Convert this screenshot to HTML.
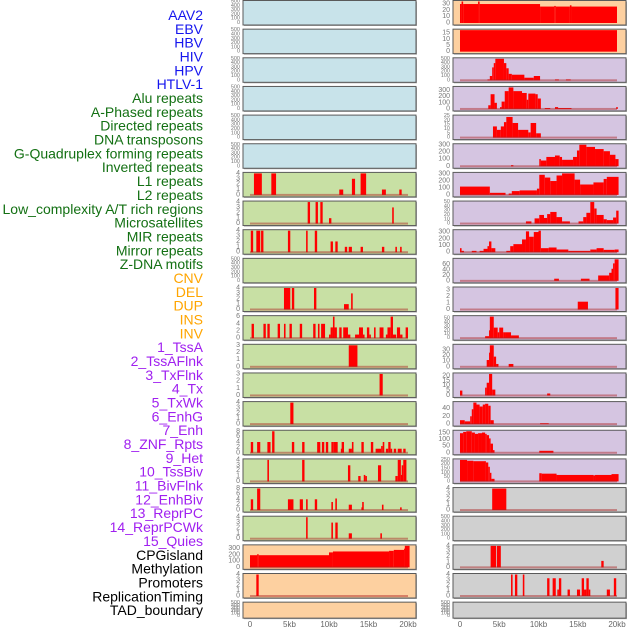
<!DOCTYPE html>
<html><head><meta charset="utf-8"><style>
html,body{margin:0;padding:0;background:#fff;width:630px;height:630px;overflow:hidden}
svg{display:block;font-family:"Liberation Sans",sans-serif}
</style></head><body>
<svg id="chart" width="630" height="630" viewBox="0 0 630 630" xmlns="http://www.w3.org/2000/svg"></svg>
<script>
const labels=["AAV2","EBV","HBV","HIV","HPV","HTLV-1","Alu repeats","A-Phased repeats","Directed repeats","DNA transposons","G-Quadruplex forming repeats","Inverted repeats","L1 repeats","L2 repeats","Low_complexity A/T rich regions","Microsatellites","MIR repeats","Mirror repeats","Z-DNA motifs","CNV","DEL","DUP","INS","INV","1_TssA","2_TssAFlnk","3_TxFlnk","4_Tx","5_TxWk","6_EnhG","7_Enh","8_ZNF_Rpts","9_Het","10_TssBiv","11_BivFlnk","12_EnhBiv","13_ReprPC","14_ReprPCWk","15_Quies","CPGisland","Methylation","Promoters","ReplicationTiming","TAD_boundary"];
const labelGroups=[6,13,5,15,5];
const groupColors=["#1515ee","#137013","#ffa500","#a020f0","#000000"];
const xTicks=[0,5,10,15,20];
const xTickLabels=["0","5kb","10kb","15kb","20kb"];
const T500=[0,100,200,300,400,500], T4=[0,1,2,3,4], T8=[0,2,4,6,8], T300=[0,100,200,300];
const leftTicks=[T500,T500,T500,T500,T500,T500,T4,T4,T4,T500,T4,[0,2,4,6],[0,1,2,3],[0,1,2,3],T4,T8,T4,T8,T4,T300,T4,T500];
const leftBg=["#c8e3ea","#c8e3ea","#c8e3ea","#c8e3ea","#c8e3ea","#c8e3ea","#c8e0a4","#c8e0a4","#c8e0a4","#c8e0a4","#c8e0a4","#c8e0a4","#c8e0a4","#c8e0a4","#c8e0a4","#c8e0a4","#c8e0a4","#c8e0a4","#c8e0a4","#fdd0a0","#fdd0a0","#fdd0a0"];
const leftSegs=[[],[],[],[],[],[],
[[0.5,1.5,4],[2.7,3.3,4],[11.3,11.8,1],[12.9,13.3,3],[14.0,14.7,4],[16.7,17.2,1],[18.9,19.2,1]],
[[7.3,7.6,4],[8.3,8.6,4],[8.9,9.2,4],[10.0,10.3,1],[18.0,18.2,3]],
[[0.1,0.4,4],[0.8,1.3,4],[1.4,1.7,4],[4.8,5.1,4],[7.1,7.3,4],[8.2,8.5,4],[10.2,10.5,2],[10.8,11.1,2],[12.0,12.3,1],[12.5,12.9,1],[14.0,14.3,1],[16.7,17.0,1],[18.4,18.6,1],[19.0,19.2,1]],
[],
[[4.3,5.1,4],[5.3,5.6,4],[8.1,8.4,4],[11.9,12.5,1],[12.8,13.0,3]],
[[0.2,0.5,4],[1.7,2.0,4],[2.2,2.5,4],[3.5,3.8,4],[4.3,4.5,4],[5.0,5.3,4],[6.3,6.6,4],[8.0,8.3,4],[8.6,8.8,4],[9.0,9.5,4],[10.0,10.2,1],[10.2,10.5,3],[10.5,10.7,6],[10.7,11.0,3],[11.3,11.6,3],[11.8,12.4,3],[12.4,12.7,1],[13.3,13.8,1],[13.8,14.3,3],[14.3,14.5,1],[14.8,15.1,3],[15.1,15.3,1],[15.7,15.9,3],[16.4,16.9,3],[17.2,17.4,1],[17.4,17.8,3],[17.8,18.1,6],[18.1,18.5,1],[18.6,19.0,3],[19.0,19.3,1],[19.7,20.0,3]],
[[12.5,13.6,3]],
[[16.4,16.8,3]],
[[5.1,5.5,4]],
[[0.1,0.4,4],[0.9,1.3,4],[2.2,2.6,4],[2.8,3.1,8],[5.3,5.6,4],[6.6,6.9,4],[8.5,8.9,4],[9.1,9.4,4],[9.6,9.9,4],[10.3,10.6,4],[10.6,11.1,4],[11.5,11.6,1.5],[11.6,11.9,4],[12.5,12.9,1.5],[12.9,13.1,4],[14.1,14.4,4],[15.3,15.6,4],[15.9,16.6,1.5],[16.6,16.8,2.5],[16.8,17.0,4],[17.2,17.5,1.5],[17.5,17.8,4],[17.8,18.0,1.5],[18.2,18.5,1.5],[18.7,19.2,1.5],[19.4,19.7,1.5]],
[[2.2,2.4,4],[6.6,6.9,4],[12.4,12.7,3],[13.7,14.0,1],[14.4,14.6,1.2],[14.6,14.8,1],[16.2,16.6,3],[18.4,18.7,1],[18.7,19.1,4],[19.1,19.2,1.2],[19.2,19.4,3],[19.4,19.8,4]],
[[0.1,0.4,4],[0.9,1.3,8],[4.8,5.5,4],[6.3,6.7,4],[7.1,7.3,4],[8.2,8.5,4],[10.3,10.5,3],[10.8,11.0,4.3],[12.5,12.9,2],[14.1,14.2,1],[14.2,14.4,3],[16.7,16.9,2],[19.0,19.2,1]],
[[7.1,7.3,4],[10.3,10.5,3],[10.8,11.1,3],[12.5,12.9,1],[16.5,16.7,1]],
[[0,0.9,195],[0.9,1.1,210],[1.1,10.0,195],[10.0,10.5,240],[10.5,17.6,255],[17.6,18.2,265],[18.2,19.5,280],[19.5,19.6,300],[19.6,20.2,345]],
[[0.8,1.1,4]],
[]];
const rightTicks=[[0,10,20,30],[0,5,10,15],T500,T300,[0,5,10,15,20,25],T300,T300,[0,10,20,30,40,50],T300,[0,20,40,60],[0,1,2,3],[0,10,20,30,40,50],[0,10,20,30],[0,5,10,15,20],[0,20,40],[0,50,100,150],[0,50,100,150,200,250],T4,T500,T4,T4,T500];
const rightBg=["#fdd0a0","#fdd0a0","#d5c5e1","#d5c5e1","#d5c5e1","#d5c5e1","#d5c5e1","#d5c5e1","#d5c5e1","#d5c5e1","#d5c5e1","#d5c5e1","#d5c5e1","#d5c5e1","#d5c5e1","#d5c5e1","#d5c5e1","#d0d0d0","#d0d0d0","#d0d0d0","#d0d0d0","#d0d0d0"];
const rightSegs=[
[[0,0.2,30],[0.2,0.4,34],[0.4,2.3,30],[2.3,2.5,34],[2.5,10.2,30],[10.2,12.0,26],[12.0,12.2,27],[12.2,14.0,26],[14.0,14.2,28],[14.2,20,26]],
[[0,20,17.5]],
[[3.5,3.8,20],[3.8,4.1,100],[4.1,4.3,300],[4.3,4.5,400],[4.5,5.6,500],[5.6,5.9,400],[5.9,6.2,280],[6.2,6.6,150],[6.6,8.2,130],[8.2,9.4,60],[9.4,10.2,100],[12.1,12.6,20],[13.5,14.1,20]],
[[3.6,3.9,60],[3.9,4.4,240],[4.4,4.7,100],[5.1,5.3,30],[5.3,5.7,120],[5.7,6.2,290],[6.2,6.8,350],[6.8,7.9,290],[7.9,8.5,260],[8.5,8.7,150],[8.7,9.6,250],[9.6,9.9,240],[9.9,10.3,170],[10.8,11.5,15],[12.1,12.5,30],[12.5,14.2,15],[19.9,20.1,30]],
[[4.2,4.7,13],[4.7,5.2,9],[5.2,5.6,13],[5.6,5.9,18],[5.9,6.7,24],[6.7,7.4,17],[7.4,8.7,9],[8.7,9.0,6],[9.0,9.7,17],[9.7,10.3,5]],
[[6.5,6.8,15],[10.1,10.3,100],[10.3,11.0,80],[11.0,12.1,130],[12.1,12.7,150],[12.7,13.0,130],[13.0,14.4,90],[14.4,14.9,130],[14.9,15.2,220],[15.2,16.1,300],[16.1,17.2,270],[17.2,18.3,240],[18.3,19.1,210],[19.1,19.8,160],[19.8,20.2,100]],
[[0,3.8,120],[3.8,5.8,30],[6.2,6.6,20],[6.6,7.6,55],[7.6,9.8,65],[9.8,10.1,90],[10.1,10.8,290],[10.8,11.5,250],[11.5,12.3,200],[12.3,13.0,280],[13.0,14.6,310],[14.6,15.3,220],[15.3,17.0,150],[17.0,18.3,180],[18.3,18.7,230],[18.7,20.2,260]],
[[8.4,9.1,5],[9.5,10.1,12],[10.1,10.7,20],[10.7,11.1,13],[11.1,11.5,22],[11.5,12.3,27],[12.3,13.0,15],[13.0,14.0,5],[15.1,15.7,5],[15.7,16.1,15],[16.1,16.6,25],[16.6,17.1,50],[17.1,17.4,35],[17.4,18.3,20],[18.3,18.7,10],[18.7,19.5,8],[19.5,19.9,14],[19.9,20.2,30]],
[[0,0.2,60],[0.2,0.5,20],[1.5,2.1,20],[2.5,3.0,20],[3.0,3.5,50],[3.5,3.7,90],[3.7,4.0,160],[4.0,4.5,60],[5.9,6.4,20],[6.4,6.8,90],[6.8,7.9,120],[7.9,8.4,190],[8.4,8.8,310],[8.8,9.4,230],[9.4,10.0,300],[10.0,10.3,320],[10.3,11.3,60],[11.3,12.3,70],[12.3,13.8,40],[13.8,16.6,20],[16.6,17.4,40],[17.4,18.3,60],[18.3,19.7,35],[19.7,20.2,40]],
[[12.0,12.6,8],[15.4,16.5,8],[17.6,18.6,20],[18.6,19.0,20],[19.0,19.3,30],[19.3,19.5,45],[19.5,19.7,65],[19.7,20.2,80]],
[[15.0,16.3,1.2],[19.8,20.2,3.3]],
[[3.2,3.7,5],[3.7,3.8,20],[3.8,4.3,55],[4.3,4.8,27],[4.8,5.0,15],[5.0,5.5,27],[5.5,5.8,15],[5.8,6.5,15],[6.5,7.5,7]],
[[3.4,3.7,12],[3.7,3.8,25],[3.8,4.3,38],[4.3,4.6,18],[4.6,4.9,5],[6.2,6.8,5]],
[[0,0.3,5],[3.2,3.4,8],[3.4,3.7,13],[3.7,4.1,22],[4.1,4.5,6],[11.1,11.5,2]],
[[0,0.6,10],[0.6,1.3,7],[1.3,1.5,20],[1.5,1.7,38],[1.7,2.1,55],[2.1,2.5,50],[2.5,2.9,45],[2.9,3.2,50],[3.2,3.6,52],[3.6,3.9,47],[3.9,4.3,10],[10.2,11.3,2]],
[[0,0.4,150],[0.4,0.8,160],[0.8,1.5,165],[1.5,1.9,155],[1.9,2.3,145],[2.3,2.8,150],[2.8,3.2,155],[3.2,3.4,145],[3.4,3.7,135],[3.7,3.9,110],[3.9,4.2,70],[4.2,4.4,20],[10.1,11.9,15]],
[[0,0.9,250],[0.9,1.7,240],[1.7,3.3,235],[3.3,3.6,220],[3.6,3.8,170],[3.8,4.0,100],[4.0,4.4,30],[10.1,10.4,95],[10.4,12.3,90],[12.3,17.0,75],[17.0,17.2,70],[17.2,19.3,75],[19.3,20.2,85]],
[[4.1,5.9,4]],
[],
[[3.9,4.6,4],[4.7,5.2,4],[18.0,18.3,1.2]],
[[6.5,6.7,4],[7.0,7.3,4],[8.0,8.2,4],[11.1,11.4,3.3],[11.8,12.2,3.3],[12.4,12.6,1.2],[12.6,12.9,3.3],[13.7,14.0,1.2],[14.9,15.3,1.2],[15.5,15.8,3.3],[15.8,16.1,1.2],[16.1,16.4,3.3],[16.4,16.6,1.2],[18.7,19.1,1.2],[19.6,19.9,3.3]],
[]];

const NS="http://www.w3.org/2000/svg";
const svg=document.getElementById('chart');
function mk(tag,attrs,parent){const e=document.createElementNS(NS,tag);for(const k in attrs)e.setAttribute(k,attrs[k]);(parent||svg).appendChild(e);return e;}

let gi=0,cnt=0;
labels.forEach((lab,i)=>{
  while(cnt>=labelGroups[gi]){cnt=0;gi++;}
  cnt++;
  const t=mk('text',{x:203,y:15+i*13.84,'text-anchor':'end','dominant-baseline':'central','font-size':14,fill:groupColors[gi]});
  
  
  t.textContent=lab;
});

const cols=[{x0:243,x1:416,d0:250,d1:408,ticks:leftTicks,segs:leftSegs,bg:leftBg,name:'left'},
            {x0:453,x1:626,d0:460,d1:617,ticks:rightTicks,segs:rightSegs,bg:rightBg,name:'right'}];
cols.forEach(c=>{
  const xs=kb=>c.d0+(kb/20)*(c.d1-c.d0);
  for(let r=0;r<22;r++){
    const T=0.5+28.65*r, H=(r===21?16:24.5);
    const g=mk('g',{});
    
    
    const clipId='clip-'+c.name+r;
    const cp=mk('clipPath',{id:clipId},g);mk('rect',{x:c.x0,y:T,width:c.x1-c.x0,height:H},cp);
    mk('rect',{x:c.x0+1,y:T+1,width:c.x1-c.x0,height:H,fill:'#aaa'},g);
    const bgR=mk('rect',{x:c.x0,y:T,width:c.x1-c.x0,height:H,fill:c.bg[r]},g);
    
    
    const segs=c.segs[r], ticks=c.ticks[r];
    let vmax=ticks[ticks.length-1];
    segs.forEach(s=>{if(s[2]>vmax)vmax=s[2];});
    const y0=T+H-2, ytop=T+1;
    const ys=v=>y0-(v/vmax)*(y0-ytop);
    const bars=mk('g',{'clip-path':'url(#'+clipId+')'},g);
    segs.forEach(s=>{
      const b=mk('rect',{x:xs(s[0]),y:ys(s[2]),width:Math.max(xs(s[1])-xs(s[0]),1.2),height:y0-ys(s[2]),fill:'#ff0000'},bars);
      
      
    });
    const hasBase = segs.length>0 && !(c.name==='right' && r<2);
    if(hasBase){
      const bl=mk('rect',{x:xs(0),y:y0-1,width:xs(20)-xs(0),height:2,fill:'rgba(170,30,30,0.45)'},g);
      
      
    }
    mk('rect',{x:c.x0,y:T,width:c.x1-c.x0,height:H,fill:'none',stroke:'#5a5a5a','stroke-width':1},g);
    const fs=ticks.length>5?5.5:7;
    ticks.forEach(tv=>{
      const tt=mk('text',{x:c.x0-3,y:ys(tv),'text-anchor':'end','dominant-baseline':'central','font-size':fs,fill:'#777'},g);
      
      
      tt.textContent=tv;
    });
  }
  xTicks.forEach((k,i)=>{
    const t=mk('text',{x:xs(k),y:627,'text-anchor':'middle','font-size':8,fill:'#666'});
    
    
    t.textContent=xTickLabels[i];
  });
});
</script>
</body></html>
